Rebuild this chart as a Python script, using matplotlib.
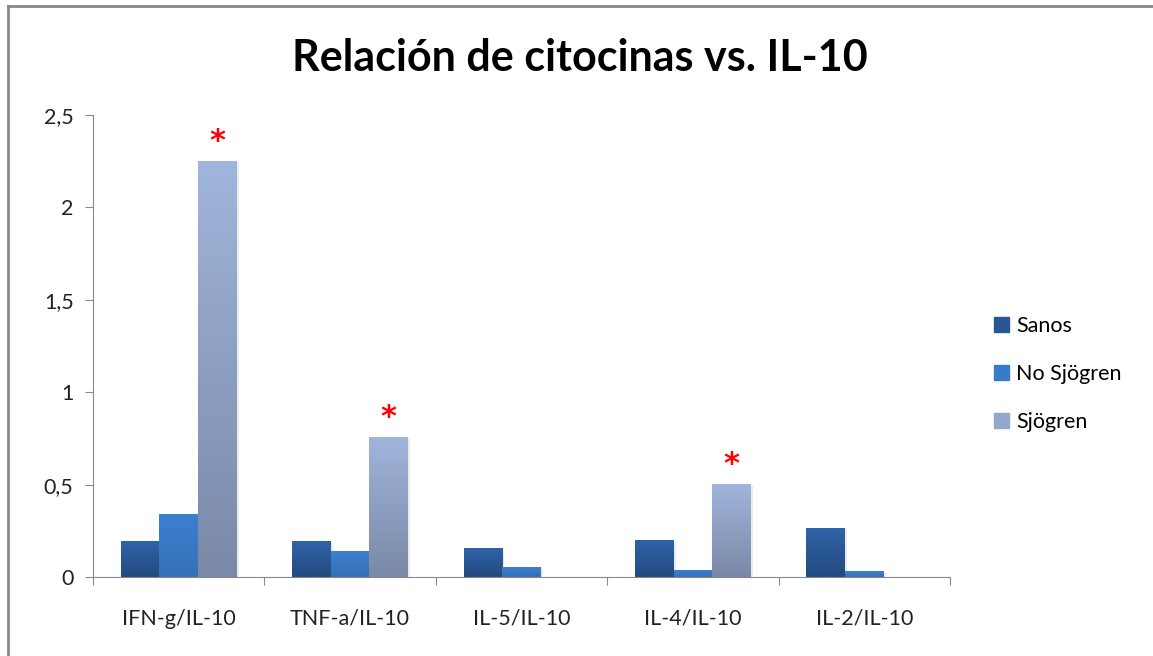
import matplotlib.pyplot as plt
import numpy as np
from matplotlib.colors import LinearSegmentedColormap
from matplotlib.patches import Rectangle
from matplotlib.lines import Line2D

categories = ['IFN-g/IL-10', 'TNF-a/IL-10', 'IL-5/IL-10', 'IL-4/IL-10', 'IL-2/IL-10']
series = ['Sanos', 'No Sjögren', 'Sjögren']
sanos = [0.19, 0.19, 0.155, 0.195, 0.265]
no_sjogren = [0.34, 0.14, 0.05, 0.035, 0.03]
sjogren = [2.25, 0.755, 0.0, 0.50, 0.0]
significant = [True, True, False, True, False]

values = [sanos, no_sjogren, sjogren]
# (top colour, bottom colour) for the gradient fill
grad = [('#2F63A8', '#234A80'), ('#3C80D0', '#3570B8'), ('#A0B5DC', '#7A89A6')]
solid = ['#2A5794', '#3A7BC8', '#94A8CE']

plt.rcParams['font.family'] = ['Lato', 'DejaVu Sans']

fig = plt.figure(figsize=(11.53, 6.56), dpi=100)
ax = fig.add_axes([93 / 1153, 1 - 577 / 656, (950 - 93) / 1153, (577 - 115) / 656])

x = np.arange(len(categories))
w = 0.225
for s in range(3):
    cmap = LinearSegmentedColormap.from_list('g%d' % s, [grad[s][1], grad[s][0]])
    for i in range(len(categories)):
        v = values[s][i]
        if v <= 0:
            continue
        left = x[i] + (s - 1) * w - w / 2
        ax.imshow(np.linspace(0, 1, 50).reshape(-1, 1), cmap=cmap, aspect='auto',
                  extent=(left, left + w, 0, v), origin='lower', zorder=2)
        # soft shadow
        ax.add_patch(Rectangle((left + 0.012, -0.006), w, v, color='#000000', alpha=0.08, zorder=1, lw=0))

for i in range(len(categories)):
    if significant[i]:
        ax.text(x[i] + w, sjogren[i] + 0.03, '*', color='red', fontsize=22, fontweight='bold',
                ha='center', va='bottom', family='DejaVu Sans')

ax.set_xlim(-0.5, len(categories) - 0.5)
ax.set_ylim(0, 2.5)
ax.set_yticks([0, 0.5, 1, 1.5, 2, 2.5])
ax.set_yticklabels(['0', '0,5', '1', '1,5', '2', '2,5'], fontsize=15.5, color='#222222')
ax.set_xticks(np.arange(-0.5, len(categories), 1))
ax.set_xticklabels([])
ax.set_xticks(x, minor=True)
ax.set_xticklabels(categories, minor=True, fontsize=15.5, color='#222222')
ax.tick_params(axis='x', which='minor', length=0, pad=23)
ax.tick_params(axis='x', which='major', length=6, color='#888888', direction='out')
ax.tick_params(axis='y', length=6, color='#888888', pad=8)
for sp in ['top', 'right']:
    ax.spines[sp].set_visible(False)
ax.spines['left'].set_color('#888888')
ax.spines['bottom'].set_color('#888888')

handles = [Rectangle((0, 0), 1, 1, color=c) for c in solid]
fig.legend(handles, series, loc='center left', bbox_to_anchor=(975 / 1153, 1 - 374 / 656),
           frameon=False, fontsize=15.5, handlelength=0.7, handleheight=0.7, handletextpad=0.3,
           labelspacing=1.3)

fig.text(580 / 1153, 1 - 58 / 656, 'Relación de citocinas vs. IL-10', ha='center', va='center',
         fontsize=31, fontweight='bold', color='black')

# chart frame: only the top and left edges are visible in the crop
fig.add_artist(Line2D([8 / 1153, 1], [1 - 6 / 656, 1 - 6 / 656], transform=fig.transFigure,
                      color='#888888', lw=2))
fig.add_artist(Line2D([8 / 1153, 8 / 1153], [0, 1 - 6 / 656], transform=fig.transFigure,
                      color='#888888', lw=2))

fig.savefig('out.png', dpi=100)
